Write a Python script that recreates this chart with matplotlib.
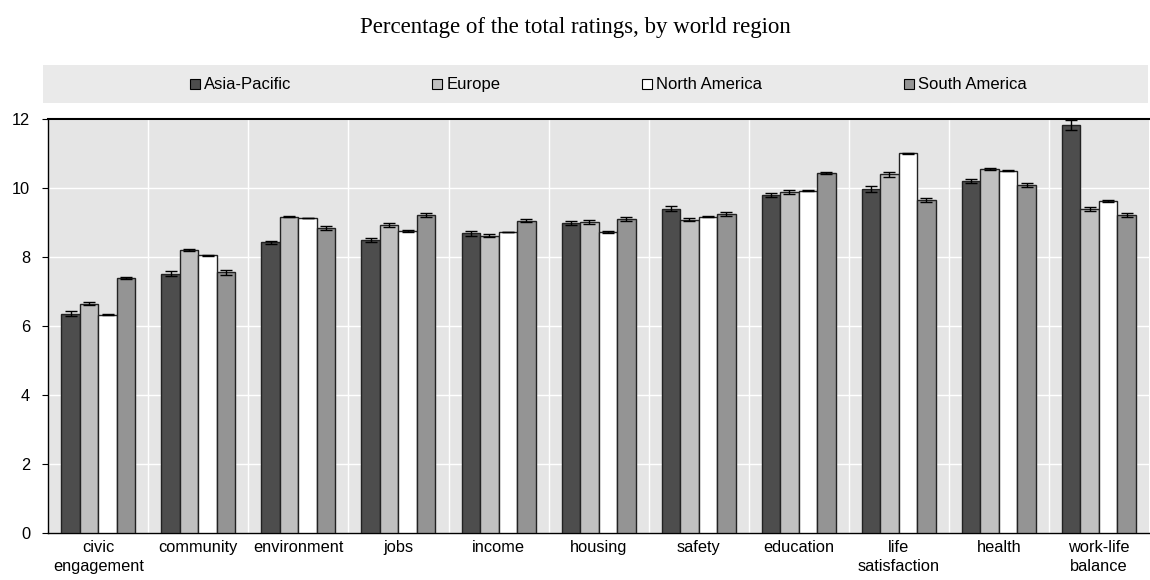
import matplotlib.pyplot as plt
import numpy as np

categories = ['civic\nengagement', 'community', 'environment', 'jobs', 'income', 'housing',
              'safety', 'education', 'life\nsatisfaction', 'health', 'work-life\nbalance']
regions = ['Asia-Pacific', 'Europe', 'North America', 'South America']
colors = ['#4d4d4d', '#c0c0c0', '#ffffff', '#949494']

asia = [6.35, 7.52, 8.42, 8.48, 8.68, 8.99, 9.40, 9.80, 9.97, 10.20, 11.82]
europe = [6.65, 8.20, 9.17, 8.92, 8.62, 9.02, 9.08, 9.88, 10.40, 10.55, 9.40]
north_am = [6.33, 8.05, 9.13, 8.75, 8.72, 8.72, 9.17, 9.92, 11.00, 10.50, 9.63]
south_am = [7.38, 7.55, 8.85, 9.22, 9.05, 9.10, 9.25, 10.43, 9.65, 10.08, 9.22]

asia_err = [0.07, 0.06, 0.04, 0.06, 0.07, 0.06, 0.07, 0.06, 0.10, 0.07, 0.15]
europe_err = [0.05, 0.03, 0.02, 0.05, 0.05, 0.06, 0.05, 0.06, 0.07, 0.03, 0.06]
north_am_err = [0.02, 0.01, 0.01, 0.02, 0.01, 0.02, 0.02, 0.02, 0.02, 0.01, 0.03]
south_am_err = [0.03, 0.06, 0.06, 0.06, 0.05, 0.07, 0.06, 0.04, 0.06, 0.05, 0.05]

series = [asia, europe, north_am, south_am]
errors = [asia_err, europe_err, north_am_err, south_am_err]

plt.rcParams['font.family'] = ['Liberation Sans', 'DejaVu Sans']

fig = plt.figure(figsize=(11.5, 5.8), dpi=100)
ax = fig.add_axes([0.042, 0.081, 0.957, 0.714])
ax.set_facecolor('#e5e5e5')

x = np.arange(len(categories))
w = 0.185
for i in range(4):
    ax.bar(x + (i - 1.5) * w, series[i], w, color=colors[i], edgecolor='#222222',
           linewidth=1.0, zorder=3)
    ax.errorbar(x + (i - 1.5) * w, series[i], yerr=errors[i], fmt='none',
                ecolor='black', elinewidth=1, capsize=4, capthick=1, zorder=4)

ax.set_xlim(-0.5, len(categories) - 0.5)
ax.set_ylim(0, 12)
ax.set_yticks(range(0, 13, 2))
ax.set_xticks(x)
ax.set_xticklabels(categories, fontsize=11.8, linespacing=1.35)
ax.tick_params(axis='x', length=0, pad=5)
ax.tick_params(axis='y', labelsize=11.8, length=4, direction='out', pad=9)
for b in np.arange(0.5, len(categories) - 0.5):
    ax.axvline(b, color='white', linewidth=1, zorder=1)
ax.yaxis.grid(True, color='white', linewidth=1, zorder=1)
ax.set_axisbelow(True)
for s in ['left', 'bottom']:
    ax.spines[s].set_color('black')
    ax.spines[s].set_linewidth(1)
ax.spines['right'].set_visible(False)
ax.spines['top'].set_linewidth(1.5)

# legend band
lax = fig.add_axes([0.037, 0.822, 0.961, 0.066])
lax.set_facecolor('#eaeaea')
lax.set_xlim(0, 1)
lax.set_ylim(0, 1)
lax.set_xticks([])
lax.set_yticks([])
for s in lax.spines.values():
    s.set_visible(False)
legend_x = [0.138, 0.357, 0.547, 0.784]
for lx, name, c in zip(legend_x, regions, colors):
    lax.plot(lx, 0.5, marker='s', markersize=7, markerfacecolor=c,
             markeredgecolor='black', markeredgewidth=0.8, linestyle='none')
    lax.text(lx + 0.0085, 0.5, name, ha='left', va='center', fontsize=12)

fig.text(0.5, 0.953, 'Percentage of the total ratings, by world region',
         ha='center', va='center', fontsize=16.5, family=['Liberation Serif', 'DejaVu Serif'])

fig.savefig('out.png', dpi=100)
